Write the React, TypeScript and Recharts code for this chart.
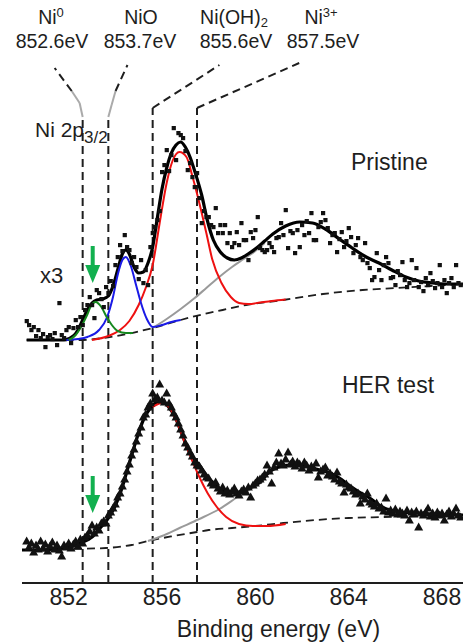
import {
  ComposedChart,
  Line,
  Scatter,
  XAxis,
  YAxis,
  ReferenceLine,
  ReferenceDot,
} from "recharts";

// XPS Ni 2p3/2 spectra, pristine (x3, shifted up) and after HER test
const ENERGY_START = 850.2;
const ENERGY_STEP = 0.1;

const pristineCounts = [
  262, 258, 253, 256, 247, 253, 245, 249, 236, 246,
  248, 244, 250, 238, 280, 248, 245, 253, 256, 240,
  255, 263, 256, 266, 258, 273, 278, 286, 278, 265,
  293, 290, 284, 276, 296, 290, 302, 297, 318, 326,
  338, 332, 348, 336, 333, 320, 326, 316, 304, 323,
  300, 313, 298, 336, 350, 356, 363, 372, 411, 418,
  433, 412, 428, 455, 423, 450, 448, 445, 432, 413,
  420, 406, 396, 410, 385, 360, 372, 366, 366, 358,
  356, 375, 350, 358, 350, 358, 340, 350, 336, 340,
  351, 338, 360, 343, 343, 323, 351, 345, 353, 366,
  335, 333, 331, 333, 340, 336, 331, 345, 346, 360,
  348, 373, 335, 352, 350, 330, 353, 336, 358, 348,
  362, 350, 370, 343, 343, 356, 361, 370, 363, 355,
  340, 348, 350, 331, 344, 351, 336, 342, 355, 346,
  330, 338, 345, 326, 323, 340, 320, 315, 303, 306,
  330, 313, 303, 318, 326, 320, 305, 306, 298, 312,
  308, 321, 303, 296, 300, 323, 303, 315, 296, 301,
  292, 305, 298, 310, 302, 295, 300, 318, 296, 303,
  290, 300, 305, 296, 318, 300, 298,
];

const herCounts = [
  42, 36, 40, 31, 38, 34, 42, 35, 39, 32,
  37, 41, 34, 38, 33, 27, 38, 36, 40, 35,
  39, 42, 37, 44, 40, 46, 48, 52, 58, 50,
  56, 53, 60, 62, 60, 68, 71, 75, 79, 86,
  90, 97, 104, 112, 119, 128, 134, 142, 150, 156,
  166, 169, 176, 180, 190, 184, 186, 199, 183, 181,
  190, 180, 176, 170, 166, 160, 154, 148, 140, 136,
  131, 127, 121, 118, 117, 113, 109, 106, 105, 100,
  98, 101, 95, 92, 96, 90, 93, 89, 92, 95,
  90, 88, 92, 94, 91, 96, 86, 98, 100, 103,
  104, 106, 109, 118, 112, 100, 116, 121, 130, 120,
  118, 124, 131, 119, 122, 117, 121, 119, 115, 121,
  118, 113, 117, 115, 120, 106, 112, 114, 116, 108,
  110, 107, 104, 111, 102, 100, 91, 99, 96, 95,
  92, 89, 90, 80, 87, 84, 90, 81, 79, 77,
  80, 75, 76, 72, 85, 71, 73, 70, 74, 69,
  72, 70, 68, 73, 63, 71, 69, 72, 56, 70,
  68, 71, 75, 67, 70, 66, 71, 68, 70, 63,
  69, 72, 67, 70, 75, 68, 66,
];

// fitted curves, [binding energy, intensity]
const pristineEnvelope: [number, number][] = [
  [850.2, 243], [851.0, 243], [851.8, 243], [852.2, 247], [852.4, 253], [852.6, 263],
  [852.8, 273], [853.0, 280], [853.2, 283], [853.45, 284], [853.7, 287], [853.9, 297],
  [854.1, 313], [854.3, 329], [854.45, 333], [854.6, 329], [854.8, 316], [855.0, 310],
  [855.2, 311], [855.4, 320], [855.6, 336], [855.8, 365], [856.0, 394], [856.2, 415],
  [856.4, 430], [856.6, 438], [856.8, 441], [857.0, 436], [857.2, 426], [857.4, 412],
  [857.7, 388], [857.95, 362], [858.2, 343], [858.5, 331], [858.8, 325], [859.1, 323],
  [859.4, 325], [859.75, 330], [860.05, 335], [860.4, 342], [860.75, 349], [861.3, 357],
  [861.9, 361], [862.45, 360], [863.0, 354], [863.6, 344], [864.15, 335], [864.75, 326],
  [865.3, 320], [865.85, 313], [866.45, 306], [867.0, 302], [867.6, 300], [868.2, 299],
  [868.9, 299],
];
const pristineBackground: [number, number][] = [
  [850.2, 243], [852.5, 243], [853.5, 245], [854.5, 249], [855.6, 255], [856.8, 263],
  [857.8, 269], [858.6, 273], [859.6, 278], [861.2, 283], [862.9, 289], [864.6, 293],
  [866.0, 295], [867.5, 297], [868.9, 299],
];
const pristineNiOH2: [number, number][] = [
  [853.0, 243], [853.7, 247], [854.2, 253], [854.6, 262], [855.0, 278], [855.3, 295],
  [855.6, 318], [855.9, 360], [856.2, 400], [856.45, 422], [856.75, 431], [857.05, 426],
  [857.3, 407], [857.6, 380], [857.9, 350], [858.15, 324], [858.55, 300], [858.95, 286],
  [859.3, 280], [859.7, 279], [860.2, 280.5], [860.7, 282], [861.3, 283.5],
];
const pristineNiO: [number, number][] = [
  [851.9, 243], [852.4, 244], [852.8, 246], [853.3, 253], [853.65, 266], [853.9, 286],
  [854.1, 308], [854.3, 323], [854.45, 326], [854.65, 318], [854.9, 297], [855.1, 280],
  [855.35, 264], [855.6, 256], [856.0, 258], [856.4, 261], [856.8, 263],
];
const pristineNi0: [number, number][] = [
  [852.0, 243], [852.3, 248], [852.55, 257], [852.77, 267], [852.98, 278], [853.15, 281],
  [853.4, 276], [853.63, 266], [853.85, 258], [854.1, 252], [854.45, 250], [854.75, 250],
];
const pristineSatellite: [number, number][] = [
  [855.6, 255], [856.2, 264], [856.8, 274], [857.4, 285], [857.9, 295], [858.45, 306],
  [859.0, 316], [859.5, 324], [860.0, 332], [860.4, 340],
];

const herEnvelope: [number, number][] = [
  [850.0, 33], [850.8, 33], [851.7, 35], [852.2, 37], [852.5, 40], [853.0, 46],
  [853.35, 55], [853.7, 65], [854.05, 80], [854.3, 96], [854.6, 120], [854.9, 143],
  [855.2, 163], [855.5, 175], [855.8, 181], [856.0, 182], [856.25, 177], [856.6, 164],
  [856.9, 146], [857.2, 130], [857.6, 118], [858.0, 105], [858.45, 95], [858.9, 90],
  [859.3, 91], [859.75, 95], [860.2, 101], [860.6, 111], [861.0, 116], [861.45, 118],
  [861.9, 118], [862.3, 116], [862.75, 113], [863.2, 110], [863.6, 105], [864.0, 98],
  [864.45, 91], [864.9, 85], [865.3, 78], [865.75, 73], [866.2, 71], [866.9, 70],
  [867.6, 69], [868.9, 68],
];
const herBackground: [number, number][] = [
  [850.0, 33], [852.0, 34], [853.6, 35], [854.7, 38], [855.6, 43], [856.5, 47],
  [857.5, 51], [858.0, 53], [859.0, 55], [860.0, 57], [861.2, 60], [862.6, 63],
  [864.0, 65], [865.5, 66], [867.0, 67], [868.9, 68],
];
const herNiOH2: [number, number][] = [
  [855.6, 176], [856.0, 180], [856.3, 176], [856.6, 163], [857.0, 139], [857.3, 122],
  [857.6, 106], [857.95, 90], [858.35, 76], [858.75, 66], [859.3, 59], [859.9, 57],
  [860.5, 57], [861.3, 59],
];
const herSatellite: [number, number][] = [
  [855.4, 42], [856.0, 47], [856.75, 55], [857.6, 64], [858.46, 74], [859.3, 87],
  [859.8, 94], [860.3, 101],
];

const majorTicks = [852, 856, 860, 864, 868];
const minorTicks = [851, 852, 853, 854, 855, 856, 857, 858, 859, 860, 861, 862, 863, 864, 865, 866, 867, 868];

// chemical state markers
const stateLines = [
  { e: 852.6, top: 466 },
  { e: 853.7, top: 466 },
  { e: 855.6, top: 475 },
  { e: 857.5, top: 475 },
];

const toPoints = (counts: number[]) =>
  counts.map((v, i) => ({ e: Math.round((ENERGY_START + i * ENERGY_STEP) * 10) / 10, v }));
const fromPairs = (pairs: [number, number][]) => pairs.map(([e, v]) => ({ e, v }));

const FONT = "'Liberation Sans', Arial, Helvetica, sans-serif";
const INK = "#1e1e1e";
const DASH = "8 5";

const Square = (p: any) => <rect x={p.cx - 2} y={p.cy - 2} width={4.2} height={4.2} fill="#111" />;
const Triangle = (p: any) => (
  <path d={`M${p.cx},${p.cy - 4.5} L${p.cx + 4.5},${p.cy + 3.5} L${p.cx - 4.5},${p.cy + 3.5} Z`} fill="#111" />
);
const DownArrow = (p: any) => {
  const { cx, cy } = p;
  return (
    <g fill="#12b04f">
      <rect x={cx - 2} y={cy - 37} width={4} height={21} />
      <path d={`M${cx - 7.5},${cy - 18} L${cx + 7.5},${cy - 18} L${cx},${cy} Z`} />
    </g>
  );
};

const seg = (x1: number, y1: number, x2: number, y2: number) => [
  { x: x1, y: y1 },
  { x: x2, y: y2 },
];

export default function App() {
  const lineProps = {
    xAxisId: "x",
    yAxisId: "y",
    dataKey: "v",
    type: "monotone" as const,
    dot: false,
    activeDot: false,
    isAnimationActive: false,
  };
  return (
    <div style={{ position: "absolute", left: 0, top: 0, width: 467, height: 643, fontFamily: FONT, background: "#fff" }}>
      <ComposedChart width={467} height={643} margin={{ top: 91, right: 4, bottom: 0, left: 22 }}>
        <XAxis
          xAxisId="x"
          type="number"
          dataKey="e"
          domain={[850, 868.9]}
          allowDataOverflow
          ticks={majorTicks}
          interval={0}
          height={60}
          tickLine={false}
          tickSize={0}
          tickMargin={6}
          axisLine={{ stroke: INK, strokeWidth: 2 }}
          tick={{ fontSize: 23, fill: INK, fontFamily: FONT }}
          label={{ value: "Binding energy (eV)", position: "insideBottom", offset: 6, dx: 36, fontSize: 23, fill: INK, fontFamily: FONT }}
        />
        <XAxis xAxisId="bMinor" type="number" domain={[850, 868.9]} allowDataOverflow orientation="bottom" mirror height={0}
          ticks={minorTicks} interval={0} tick={false} tickSize={4} axisLine={false} tickLine={{ stroke: INK, strokeWidth: 1.5 }} />
        <XAxis xAxisId="bMajor" type="number" domain={[850, 868.9]} allowDataOverflow orientation="bottom" mirror height={0}
          ticks={majorTicks} interval={0} tick={false} tickSize={7} axisLine={false} tickLine={{ stroke: INK, strokeWidth: 1.5 }} />
        <XAxis xAxisId="tMinor" type="number" domain={[850, 868.9]} allowDataOverflow orientation="top" mirror height={0}
          ticks={minorTicks} interval={0} tick={false} tickSize={4} axisLine={{ stroke: INK, strokeWidth: 2 }} tickLine={{ stroke: INK, strokeWidth: 1.5 }} />
        <XAxis xAxisId="tMajor" type="number" domain={[850, 868.9]} allowDataOverflow orientation="top" mirror height={0}
          ticks={majorTicks} interval={0} tick={false} tickSize={7} axisLine={false} tickLine={{ stroke: INK, strokeWidth: 1.5 }} />
        <YAxis yAxisId="y" type="number" dataKey="v" domain={[0, 492]} allowDataOverflow width={0}
          tick={false} tickLine={false} axisLine={{ stroke: INK, strokeWidth: 2 }} />
        <YAxis yAxisId="yr" type="number" orientation="right" domain={[0, 492]} allowDataOverflow width={0}
          tick={false} tickLine={false} axisLine={{ stroke: INK, strokeWidth: 2 }} />

        {stateLines.map((s) => (
          <ReferenceLine key={s.e} xAxisId="x" yAxisId="y" segment={seg(s.e, 0, s.e, s.top)} ifOverflow="visible"
            stroke={INK} strokeWidth={2} strokeDasharray={DASH} />
        ))}
        {/* leaders to the labels above the frame */}
        <ReferenceLine xAxisId="x" yAxisId="y" segment={seg(852.6, 466, 852.47, 480)} ifOverflow="visible" stroke="#aaa" strokeWidth={2} />
        <ReferenceLine xAxisId="x" yAxisId="y" segment={seg(852.47, 480, 852.13, 492)} ifOverflow="visible" stroke="#aaa" strokeWidth={2} />
        <ReferenceLine xAxisId="x" yAxisId="y" segment={seg(852.13, 492, 851.4, 515)} ifOverflow="visible" stroke={INK} strokeWidth={2} strokeDasharray={DASH} />
        <ReferenceLine xAxisId="x" yAxisId="y" segment={seg(853.7, 466, 853.84, 478)} ifOverflow="visible" stroke="#aaa" strokeWidth={2} />
        <ReferenceLine xAxisId="x" yAxisId="y" segment={seg(853.84, 478, 854.01, 492)} ifOverflow="visible" stroke="#aaa" strokeWidth={2} />
        <ReferenceLine xAxisId="x" yAxisId="y" segment={seg(854.01, 492, 854.52, 518)} ifOverflow="visible" stroke={INK} strokeWidth={2} strokeDasharray={DASH} />
        <ReferenceLine xAxisId="x" yAxisId="y" segment={seg(855.6, 475, 858.46, 518)} ifOverflow="visible" stroke={INK} strokeWidth={2} strokeDasharray={DASH} />
        <ReferenceLine xAxisId="x" yAxisId="y" segment={seg(857.5, 475, 861.88, 520)} ifOverflow="visible" stroke={INK} strokeWidth={2} strokeDasharray={DASH} />

        <Scatter xAxisId="x" yAxisId="y" dataKey="v" data={toPoints(pristineCounts)} shape={Square} isAnimationActive={false} />
        <Scatter xAxisId="x" yAxisId="y" dataKey="v" data={toPoints(herCounts)} shape={Triangle} isAnimationActive={false} />

        <Line {...lineProps} data={fromPairs(pristineBackground)} stroke={INK} strokeWidth={1.8} strokeDasharray={DASH} />
        <Line {...lineProps} data={fromPairs(herBackground)} stroke={INK} strokeWidth={1.8} strokeDasharray={DASH} />
        <Line {...lineProps} data={fromPairs(pristineSatellite)} stroke="#9a9a9a" strokeWidth={2} />
        <Line {...lineProps} data={fromPairs(herSatellite)} stroke="#9a9a9a" strokeWidth={2} />
        <Line {...lineProps} data={fromPairs(pristineEnvelope)} stroke="#000" strokeWidth={3.2} />
        <Line {...lineProps} data={fromPairs(herEnvelope)} stroke="#000" strokeWidth={3.2} />
        <Line {...lineProps} data={fromPairs(pristineNiOH2)} stroke="#ee1111" strokeWidth={2} />
        <Line {...lineProps} data={fromPairs(herNiOH2)} stroke="#ee1111" strokeWidth={2} />
        <Line {...lineProps} data={fromPairs(pristineNiO)} stroke="#1a1ae6" strokeWidth={2} />
        <Line {...lineProps} data={fromPairs(pristineNi0)} stroke="#15881e" strokeWidth={2} />

        <ReferenceDot xAxisId="x" yAxisId="y" x={853.03} y={300} r={0} ifOverflow="visible" shape={DownArrow} />
        <ReferenceDot xAxisId="x" yAxisId="y" x={853.03} y={70} r={0} ifOverflow="visible" shape={DownArrow} />
      </ComposedChart>

      <svg width={467} height={643} style={{ position: "absolute", left: 0, top: 0, pointerEvents: "none" }}
        fontFamily={FONT} fill={INK}>
        <text x={51} y={24} fontSize={19.5} textAnchor="middle">Ni<tspan dy={-7} fontSize={13}>0</tspan></text>
        <text x={52} y={48} fontSize={19.5} textAnchor="middle">852.6eV</text>
        <text x={141} y={24} fontSize={19.5} textAnchor="middle">NiO</text>
        <text x={140} y={48} fontSize={19.5} textAnchor="middle">853.7eV</text>
        <text x={234} y={24} fontSize={19.5} textAnchor="middle">Ni(OH)<tspan dy={3} fontSize={13}>2</tspan></text>
        <text x={236} y={48} fontSize={19.5} textAnchor="middle">855.6eV</text>
        <text x={321} y={24} fontSize={19.5} textAnchor="middle">Ni<tspan dy={-7} fontSize={13}>3+</tspan></text>
        <text x={323} y={48} fontSize={19.5} textAnchor="middle">857.5eV</text>
        <text x={35} y={137} fontSize={21}>Ni 2p<tspan dy={6} fontSize={17}>3/2</tspan></text>
        <text x={40} y={283} fontSize={22}>x3</text>
        <text x={351} y={170} fontSize={23}>Pristine</text>
        <text x={342} y={393} fontSize={23}>HER test</text>
      </svg>
    </div>
  );
}
